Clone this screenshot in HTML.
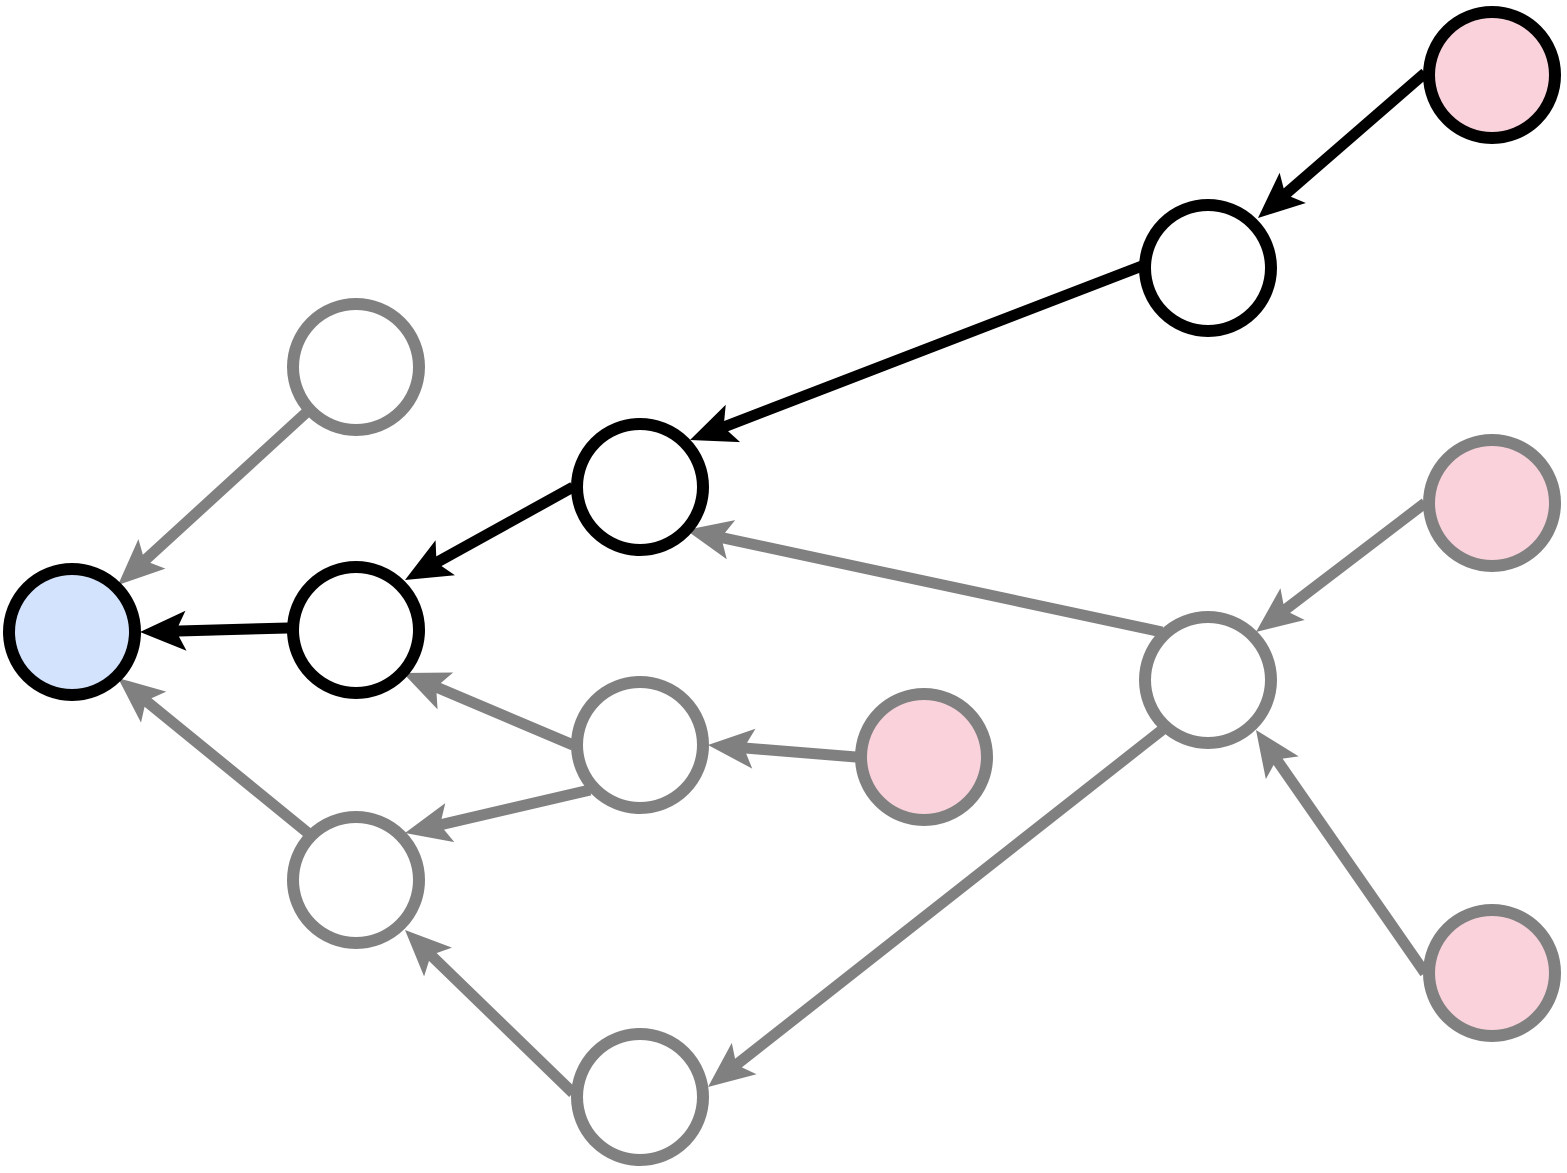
<!DOCTYPE html>
<html><head><style>html,body{margin:0;padding:0;background:#fff}</style></head>
<body>
<svg id="s" width="1567" height="1168" viewBox="0 0 1567 1168" xmlns="http://www.w3.org/2000/svg">
<defs>
<marker id="mb" markerUnits="userSpaceOnUse" markerWidth="50" markerHeight="44" refX="16" refY="20" orient="auto" overflow="visible"><path d="M0,0 L46,20 L0,40 L10,20 z" fill="#000"/></marker>
<marker id="mg" markerUnits="userSpaceOnUse" markerWidth="50" markerHeight="44" refX="16" refY="20" orient="auto" overflow="visible"><path d="M0,0 L46,20 L0,40 L10,20 z" fill="#808080"/></marker>
</defs>
<g id="edges"></g>
<g id="nodes"></g>
</svg>
<script>
var N=[[72,632,'#d3e3fd','#000'],[356,367,'#fff','#808080'],[356,630,'#fff','#000'],[640,487,'#fff','#000'],[1208,268,'#fff','#000'],[1492,75,'#f9d2db','#000'],[1492,503,'#f9d2db','#808080'],[1208,680,'#fff','#808080'],[640,745,'#fff','#808080'],[924,757,'#f9d2db','#808080'],[356,880,'#fff','#808080'],[640,1097,'#fff','#808080'],[1492,973,'#f9d2db','#808080']];
var E=[[1425,73,1258,218,1],[1142,266,690,440,1],[573,487,405,580,1],[288,628,140,632,1],[308,411,118,585,0],[308,833,118,678,0],[573,745,403,673,0],[590,790,405,833,0],[856,757,708,745,0],[1162,632,686,530,0],[1425,503,1256,632,0],[1425,973,1256,730,0],[1162,730,708,1087,0],[573,1093,405,930,0]];
var ns='http://www.w3.org/2000/svg',ge=document.getElementById('edges'),gn=document.getElementById('nodes');
E.forEach(function(e){var dx=e[2]-e[0],dy=e[3]-e[1],d=Math.hypot(dx,dy),ux=dx/d,uy=dy/d;
var l=document.createElementNS(ns,'line');
l.setAttribute('x1',e[0]);l.setAttribute('y1',e[1]);
l.setAttribute('x2',e[2]-ux*30);l.setAttribute('y2',e[3]-uy*30);
l.setAttribute('stroke',e[4]?'#000':'#808080');l.setAttribute('stroke-width','11');
l.setAttribute('marker-end',e[4]?'url(#mb)':'url(#mg)');ge.appendChild(l);});
N.forEach(function(n){var c=document.createElementNS(ns,'circle');c.setAttribute('cx',n[0]);c.setAttribute('cy',n[1]);c.setAttribute('r',63);c.setAttribute('fill',n[2]);c.setAttribute('stroke',n[3]);c.setAttribute('stroke-width','12');gn.appendChild(c);});
</script>
</body></html>
